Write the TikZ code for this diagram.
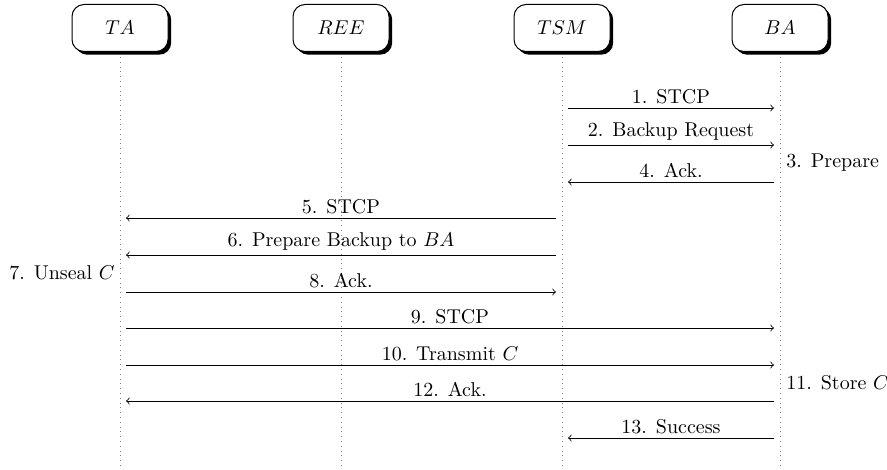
\documentclass[tikz,border=0pt]{standalone}
\usetikzlibrary{shadows}
\begin{document}
\begin{tikzpicture}[x=0.5pt,y=-0.5pt,
  actor/.style={draw,fill=white,rounded corners=6pt,minimum width=48pt,minimum height=23.5pt,
    line width=0.5pt,drop shadow={shadow xshift=1.6pt,shadow yshift=-1.6pt,fill=black,opacity=1}},
  life/.style={dotted,gray,line width=0.4pt},
  msg/.style={->,line width=0.4pt},
  lbl/.style={above,inner sep=2pt},
  note/.style={inner sep=0pt}]
\useasboundingbox[fill=white] (0,0) rectangle (887,470);
\node[actor] (ta) at (120,28) {$TA$};
\node[actor] (ree) at (341,28) {$REE$};
\node[actor] (tsm) at (562,28) {$TSM$};
\node[actor] (ba) at (780,28) {$BA$};
\coordinate (taE) at (120,466);
\coordinate (reeE) at (341,466);
\coordinate (tsmE) at (562,466);
\coordinate (baE) at (780,466);
\draw[life] ([yshift=-2.5pt]ta.south) -- (taE);
\draw[life] ([yshift=-2.5pt]ree.south) -- (reeE);
\draw[life] ([yshift=-2.5pt]tsm.south) -- (tsmE);
\draw[life] ([yshift=-2.5pt]ba.south) -- (baE);
% messages
\foreach \n/\y in {1/108,2/145,4/182,5/218,6/255,8/292,9/328,10/365,12/401,13/438}{
  \coordinate (ta\n) at ([xshift=3pt]ta.center |- 0,\y);
  \coordinate (tsmL\n) at ([xshift=-3pt]tsm.center |- 0,\y);
  \coordinate (tsmR\n) at ([xshift=3pt]tsm.center |- 0,\y);
  \coordinate (ba\n) at ([xshift=-3pt]ba.center |- 0,\y);
}
\draw[msg] (tsmR1) -- node[lbl]{1. STCP} (ba1);
\draw[msg] (tsmR2) -- node[lbl]{2. Backup Request} (ba2);
\draw[msg] (ba4) -- node[lbl]{4. Ack.} (tsmR4);
\draw[msg] (tsmL5) -- node[lbl]{5. STCP} (ta5);
\draw[msg] (tsmL6) -- node[lbl]{6. Prepare Backup to $BA$} (ta6);
\draw[msg] (ta8) -- node[lbl]{8. Ack.} (tsmL8);
\draw[msg] (ta9) -- node[lbl]{9. STCP} (ba9);
\draw[msg] (ta10) -- node[lbl]{10. Transmit $C$} (ba10);
\draw[msg] (ba12) -- node[lbl]{12. Ack.} (ta12);
\draw[msg] (ba13) -- node[lbl]{13. Success} (tsmR13);
\node[note,anchor=west] (n3) at (786,163) {3. Prepare};
\node[note,anchor=east] (n7) at (115,273) {7. Unseal $C$};
\node[note,anchor=west] (n11) at (786,383) {11. Store $C$};
\end{tikzpicture}
\end{document}
